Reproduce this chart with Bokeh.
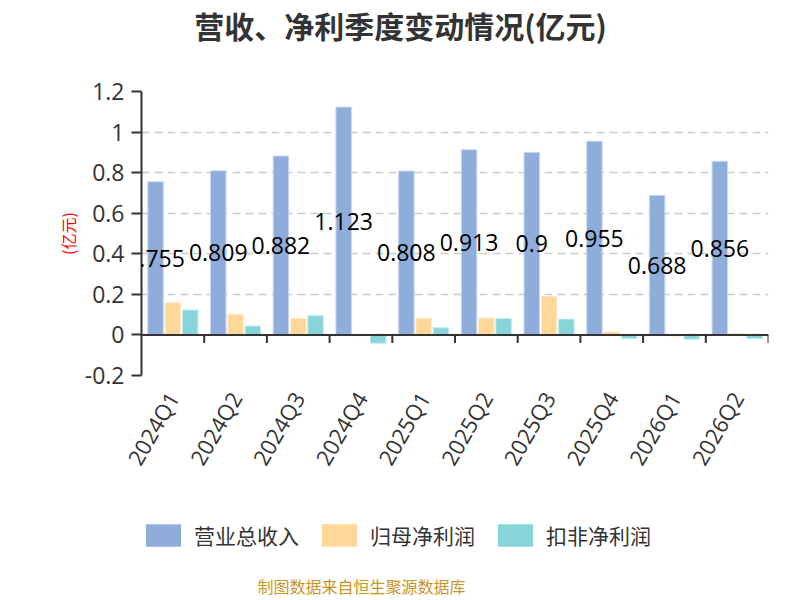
import math
from bokeh.plotting import figure
from bokeh.layouts import column
from bokeh.models import (ColumnDataSource, Range1d, FixedTicker, Span,
                          Legend, LegendItem, Label, LabelSet)
from bokeh.transform import dodge
from bokeh.core.properties import value
from bokeh.embed import file_html
from bokeh.resources import INLINE

quarters = ["2024Q1", "2024Q2", "2024Q3", "2024Q4", "2025Q1",
            "2025Q2", "2025Q3", "2025Q4", "2026Q1", "2026Q2"]
revenue = [0.755, 0.809, 0.882, 1.123, 0.808, 0.913, 0.9, 0.955, 0.688, 0.856]
net_profit = [0.159, 0.102, 0.082, -0.004, 0.082, 0.083, 0.191, 0.015, -0.005, 0.008]
deducted_profit = [0.123, 0.044, 0.095, -0.041, 0.035, 0.081, 0.078, -0.018, -0.021, -0.018]
series_names = ["营业总收入", "归母净利润", "扣非净利润"]
y_ticks = [-0.2, 0, 0.2, 0.4, 0.6, 0.8, 1.0, 1.2]
y_tick_labels = ["-0.2", "0", "0.2", "0.4", "0.6", "0.8", "1", "1.2"]

colors = ["#8FADDB", "#FFD899", "#87D5D8"]
edge = ["#C9D8EE", "#FFEBCB", "#C3EAEC"]
CJK = "Noto Sans CJK SC"
NUM = "Open Sans"
W = 792

n = len(quarters)
centers = [i + 0.5 for i in range(n)]
boundaries = list(range(1, n + 1))
TICK_LEN = 0.04  # tick length below the zero line, in axis units

src = ColumnDataSource(dict(
    pos=centers, rev=revenue, net=net_profit, ded=deducted_profit,
    mid=[v / 2 for v in revenue],
    lbl=[f"{v:g}" for v in revenue],
))

# ---- title strip
p0 = figure(width=W, height=60, output_backend="svg", toolbar_location=None,
            x_axis_location=None, y_axis_location=None, min_border=0)
p0.outline_line_color = None
p0.grid.visible = False
p0.add_layout(Label(x=259, y=36, x_units="screen", y_units="screen",
                    text="营收、净利季度变动情况(亿元)", text_font=CJK, text_font_size="30px",
                    text_font_style="bold", text_color="#333333",
                    text_align="center", text_baseline="middle"))

# ---- main chart
p = figure(width=W, height=421, x_range=Range1d(0, n),
           y_range=Range1d(-0.2, 1.2), output_backend="svg", toolbar_location=None,
           min_border_left=141, min_border_right=24, min_border_top=31, min_border_bottom=106)
p.outline_line_color = None
p.background_fill_color = "white"
p.border_fill_color = "white"

p.xgrid.grid_line_color = None
p.ygrid.ticker = FixedTicker(ticks=y_ticks)
p.ygrid.grid_line_color = "#CCCCCC"
p.ygrid.grid_line_dash = "8 5"
p.ygrid.grid_line_width = 1.5

ya = p.yaxis[0]
ya.ticker = FixedTicker(ticks=y_ticks)
ya.major_label_overrides = {t: s for t, s in zip(y_ticks, y_tick_labels)}
ya.axis_line_color = "#333333"
ya.axis_line_width = 2
ya.major_tick_line_color = "#333333"
ya.major_tick_line_width = 2
ya.major_tick_out = 10
ya.major_tick_in = 0
ya.minor_tick_line_color = None
ya.major_label_text_font = NUM
ya.major_label_text_font_size = "23px"
ya.major_label_text_color = "#333333"
ya.major_label_standoff = 7
ya.axis_label = "(亿元)"
ya.axis_label_text_font = CJK
ya.axis_label_text_font_size = "16px"
ya.axis_label_text_font_style = "normal"
ya.axis_label_text_color = "#FF0000"
ya.axis_label_standoff = 2

xa = p.xaxis[0]
xa.ticker = FixedTicker(ticks=centers)
xa.major_label_overrides = {c: q for c, q in zip(centers, quarters)}
xa.axis_line_color = None
xa.major_tick_line_color = None
xa.minor_tick_line_color = None
xa.major_label_orientation = math.pi / 3
xa.major_label_text_font = NUM
xa.major_label_text_font_size = "22px"
xa.major_label_text_color = "#333333"
xa.major_label_standoff = 12

off = 0.276
bw = 0.247
p.vbar(x=dodge("pos", -off), top="rev", bottom=0, width=bw, source=src,
       fill_color=colors[0], line_color=edge[0], line_width=1)
p.vbar(x=dodge("pos", 0), top="net", bottom=0, width=bw, source=src,
       fill_color=colors[1], line_color=edge[1], line_width=1)
p.vbar(x=dodge("pos", off), top="ded", bottom=0, width=bw, source=src,
       fill_color=colors[2], line_color=edge[2], line_width=1)

p.add_layout(Span(location=0, dimension="width", line_color="#333333", line_width=2))
p.segment(x0=boundaries, y0=[0] * len(boundaries), x1=boundaries,
          y1=[-TICK_LEN] * len(boundaries), line_color="#333333", line_width=2)

p.add_layout(LabelSet(x=dodge("pos", -off), y="mid", text="lbl", source=src,
                      text_font=value(NUM), text_font_size="23px", text_color="#000000",
                      text_align="center", text_baseline="middle"))

# ---- legend + footer strip
p2 = figure(width=W, height=115, x_range=Range1d(0, 1), y_range=Range1d(0, 1),
            output_backend="svg", toolbar_location=None,
            x_axis_location=None, y_axis_location=None, min_border=0)
p2.outline_line_color = None
p2.grid.visible = False
sw = [p2.vbar(x=[0.5], top=[0], bottom=0, width=0.5, fill_color=colors[i], line_color=None)
      for i in range(3)]
legend = Legend(items=[LegendItem(label=series_names[i], renderers=[sw[i]]) for i in range(3)],
                orientation="horizontal", location=(0, 46),
                glyph_width=44, glyph_height=28, label_text_font=CJK,
                label_text_font_size="21px", label_text_color="#333333",
                label_standoff=9, spacing=18, border_line_color=None,
                background_fill_alpha=0, padding=0, margin=0, label_height=28)
p2.add_layout(legend, "center")
p2.add_layout(Label(x=220, y=11, x_units="screen", y_units="screen",
                    text="制图数据来自恒生聚源数据库", text_font=CJK, text_font_size="16px",
                    text_color="#C8961E", text_align="center", text_baseline="middle"))

open("out.html", "w").write(file_html(column(p0, p, p2), INLINE))
